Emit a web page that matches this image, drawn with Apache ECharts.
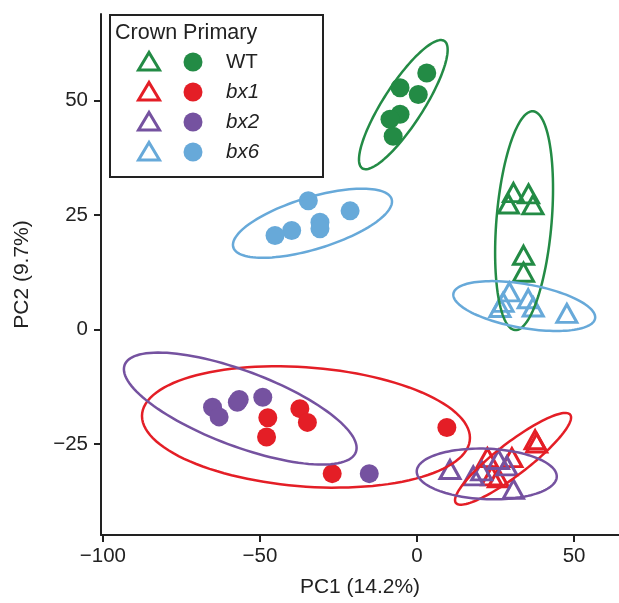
<!DOCTYPE html>
<html>
<head>
<meta charset="utf-8">
<script src="https://cdn.jsdelivr.net/npm/echarts@6/dist/echarts.min.js"></script>
<style>html,body{margin:0;padding:0;background:#fff}#c{width:619px;height:603px}</style>
</head>
<body>
<div id="c"></div>
<script>
// ---- data ----
const groups = ['WT', 'bx1', 'bx2', 'bx6'];
const colors = ['#238b45', '#e41e26', '#7552a0', '#67a9d9'];
const xTicks = [-100, -50, 0, 50];
const yTicks = [-25, 0, 25, 50];

const crownWT = [[30.7,29.9],[35.5,29.6],[29.1,27.4],[36.9,27.2],[33.9,16.2],[33.9,12.5]];
const primaryWT = [[3.1,56.0],[-5.4,52.8],[0.4,51.3],[-5.4,47.0],[-8.6,45.9],[-7.6,42.2]];
const crownBx1 = [[22.4,-28.0],[30.2,-28.0],[37.6,-24.1],[38.1,-24.8],[23.8,-32.0],[25.9,-32.4]];
const primaryBx1 = [[-37.3,-17.3],[-34.9,-20.3],[-47.5,-19.3],[-47.9,-23.5],[-27.0,-31.5],[9.5,-21.4]];
const crownBx2 = [[10.5,-30.6],[17.9,-32.0],[20.6,-30.9],[25.9,-28.4],[28.6,-29.8],[30.7,-34.9]];
const primaryBx2 = [[-65.1,-17.0],[-63.0,-19.1],[-57.2,-15.9],[-56.6,-15.3],[-49.1,-14.8],[-15.2,-31.5]];
const crownBx6 = [[29.4,8.2],[27.4,5.9],[26.4,4.8],[35.4,6.7],[37.0,4.9],[47.7,3.5]];
const primaryBx6 = [[-34.6,28.1],[-21.3,25.9],[-30.9,23.4],[-30.9,22.0],[-39.9,21.6],[-45.2,20.5]];

// ellipses: [centerX, centerY, semiAxis1X, semiAxis1Y, semiAxis2X, semiAxis2Y] in data units
const ellipseCrownWT = [34.08, 23.76, 2.87, 23.9, 8.76, -0.48];
const ellipsePrimaryWT = [-4.36, 49.1, 13.06, 13.91, 5.35, -2.35];
const ellipseCrownBx1 = [30.57, -28.26, 18.47, 9.02, 0, -4.35];
const ellipsePrimaryBx1 = [-35.35, -21.3, 52.2, -2.39, 0, -13.04];
const ellipseCrownBx2 = [22.2, -31.57, 22.29, -0.54, 0, -5.52];
const ellipsePrimaryBx2 = [-56.27, -17.28, 37.04, -8.59, 0, -8.70];
const ellipseCrownBx6 = [34.14, 5.11, 22.55, -2.72, -1.21, -4.72];
const ellipsePrimaryBx6 = [-33.28, 23.2, 25.2, 5.26, 2.42, -5.41];

const crownSets = [crownWT, crownBx1, crownBx2, crownBx6];
const primarySets = [primaryWT, primaryBx1, primaryBx2, primaryBx6];
const crownEllipses = [ellipseCrownWT, ellipseCrownBx1, ellipseCrownBx2, ellipseCrownBx6];
const primaryEllipses = [ellipsePrimaryWT, ellipsePrimaryBx1, ellipsePrimaryBx2, ellipsePrimaryBx6];

// ---- chart ----
const FONT = '"Liberation Sans", Arial, Helvetica, sans-serif';
const INK = '#222222';
const TRI = 'path://M0,-10L8.66,5L-8.66,5Z';
const fmt = v => String(v).replace('-', '\u2212');

const series = [];
groups.forEach((g, i) => {
  series.push({
    type: 'scatter', name: g + ' crown', data: crownSets[i],
    symbol: TRI, symbolSize: [20, 18], z: 2,
    itemStyle: { color: 'rgba(0,0,0,0)', borderColor: colors[i], borderWidth: 3, opacity: 1 }
  });
  series.push({
    type: 'scatter', name: g + ' primary', data: primarySets[i],
    symbol: 'circle', symbolSize: 19, z: 2,
    itemStyle: { color: colors[i], opacity: 1 }
  });
});

const ellipseData = [];
groups.forEach((g, i) => {
  ellipseData.push(crownEllipses[i].concat([i]));
  ellipseData.push(primaryEllipses[i].concat([i]));
});

series.push({
  type: 'custom', name: 'ellipses', z: 3, silent: true,
  data: ellipseData,
  encode: { x: 0, y: 1 },
  renderItem: function (params, api) {
    const cx = api.value(0), cy = api.value(1);
    const ax = api.value(2), ay = api.value(3), bx = api.value(4), by = api.value(5);
    const ci = api.value(6);
    const pts = [];
    const N = 120;
    for (let k = 0; k < N; k++) {
      const t = 2 * Math.PI * k / N;
      pts.push(api.coord([cx + ax * Math.cos(t) + bx * Math.sin(t), cy + ay * Math.cos(t) + by * Math.sin(t)]));
    }
    return {
      type: 'polygon',
      shape: { points: pts },
      style: { fill: 'none', stroke: colors[ci], lineWidth: 2.5 }
    };
  }
});

// legend graphics
const legendEls = [
  { type: 'rect', shape: { x: 110, y: 15, width: 213, height: 162 },
    style: { fill: '#fff', stroke: INK, lineWidth: 2 }, z: 10 },
  { type: 'text', x: 115, y: 33, z: 11,
    style: { text: 'Crown Primary', fontSize: 21.5, fontFamily: FONT, fill: INK, verticalAlign: 'middle' } }
];
groups.forEach((g, i) => {
  const y = 62 + i * 30;
  legendEls.push({ type: 'polygon', z: 11,
    shape: { points: [[138.5, y + 8], [159.5, y + 8], [149, y - 9.5]] },
    style: { fill: 'none', stroke: colors[i], lineWidth: 3 } });
  legendEls.push({ type: 'circle', z: 11, shape: { cx: 193, cy: y, r: 9.5 },
    style: { fill: colors[i] } });
  legendEls.push({ type: 'text', x: 226, y: y, z: 11,
    style: { text: g, fontSize: 20.5, fontFamily: FONT, fill: INK, verticalAlign: 'middle',
      fontStyle: i === 0 ? 'normal' : 'italic' } });
});

const chart = echarts.init(document.getElementById('c'), null, { renderer: 'canvas' });
chart.setOption({
  animation: false,
  backgroundColor: '#fff',
  grid: { left: 101, right: 0, top: 14, bottom: 65.5, containLabel: false },
  xAxis: {
    type: 'value', min: -100.6, max: 64.3,
    name: 'PC1 (14.2%)', nameLocation: 'middle', nameGap: 42,
    nameTextStyle: { fontSize: 21, fontFamily: FONT, color: INK },
    axisLine: { show: true, onZero: false, lineStyle: { color: INK, width: 2 } },
    axisTick: { show: true, length: 7, lineStyle: { color: INK, width: 2 }, customValues: xTicks },
    axisLabel: { fontSize: 20.5, fontFamily: FONT, color: INK, margin: 11, customValues: xTicks, formatter: fmt },
    splitLine: { show: false }
  },
  yAxis: {
    type: 'value', min: -44.9, max: 68.9,
    name: 'PC2 (9.7%)', nameLocation: 'middle', nameGap: 68,
    nameTextStyle: { fontSize: 21, fontFamily: FONT, color: INK },
    axisLine: { show: true, onZero: false, lineStyle: { color: INK, width: 2 } },
    axisTick: { show: true, length: 7, lineStyle: { color: INK, width: 2 }, customValues: yTicks },
    axisLabel: { fontSize: 20.5, fontFamily: FONT, color: INK, margin: 13, customValues: yTicks, formatter: fmt },
    splitLine: { show: false }
  },
  series: series,
  graphic: legendEls
});
</script>
</body>
</html>
